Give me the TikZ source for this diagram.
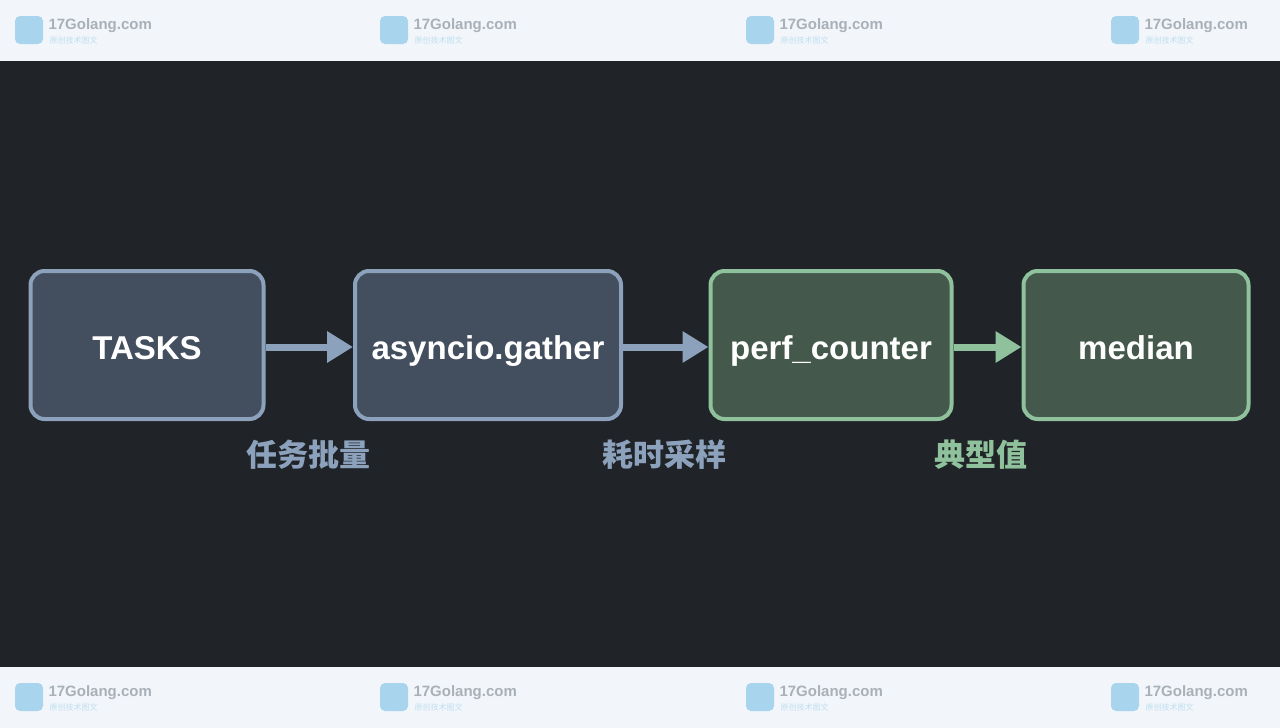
\documentclass[tikz,border=0pt]{standalone}
\usepackage{fontspec}
\setmainfont{Liberation Sans}
\newfontfamily\cjk{Noto Sans CJK SC}
\usetikzlibrary{positioning,arrows.meta}
\definecolor{bgdark}{HTML}{202327}
\definecolor{band}{HTML}{F2F6FA}
\definecolor{bluebd}{HTML}{8CA2BC}
\definecolor{bluefill}{HTML}{434F5E}
\definecolor{greenbd}{HTML}{8FC29C}
\definecolor{greenfill}{HTML}{44584C}
\definecolor{marktxt}{HTML}{A9B0B8}
\definecolor{markicon}{HTML}{A8D4EE}
\tikzset{
  stage/.style={draw=#1bd, fill=#1fill, line width=4pt, rounded corners=14pt,
    minimum height=148pt, text=white, text height=31pt, text depth=3pt,
    font=\bfseries\fontsize{33}{33}\selectfont},
  flow/.style={draw=#1bd, line width=7pt, -{Triangle[length=26pt,width=30pt]}},
  note/.style={text=#1bd, font=\cjk\bfseries\fontsize{31}{31}\selectfont},
  wmark/.style={text=marktxt, font=\bfseries\fontsize{15}{15}\selectfont, anchor=west}
}
\begin{document}
\begin{tikzpicture}[x=1pt,y=-1pt]
\useasboundingbox (0,0) rectangle (1280,728);
% Background
\fill[band] (0,0) rectangle (1280,728);
\fill[bgdark] (0,61) rectangle (1280,667);

% Watermarks
\foreach \mx in {15,380,746,1111}{
  \foreach \my in {30,697}{
    \fill[markicon, rounded corners=5pt] (\mx,\my-14) rectangle (\mx+28,\my+14);
    \node[wmark] at (\mx+30,\my-4) {17Golang.com};
    \node[wmark, text=markicon!70!band, font=\cjk\fontsize{8}{8}\selectfont] at (\mx+31,\my+10) {原创技术图文};
  }
}

% Stages
\node[stage=blue, minimum width=233pt] (tasks) at (147,345) {TASKS};
\node[stage=blue, minimum width=266pt] (gather) at (488,345) {asyncio.gather};
\node[stage=green, minimum width=241pt] (perf) at (831,345) {perf\_counter};
\node[stage=green, minimum width=225pt] (median) at (1136,345) {median};

% Connectors
\draw[flow=blue] (tasks.east) ++(0,2) coordinate (t1) -- (gather.west |- t1);
\draw[flow=blue] (gather.east) ++(0,2) coordinate (g1) -- (perf.west |- g1);
\draw[flow=green] (perf.east) ++(0,2) coordinate (p1) -- (median.west |- p1);

% Labels
\node[note=blue] (lbl1) at (308,455) {任务批量};
\node[note=blue] (lbl2) at (664,455) {耗时采样};
\node[note=green] (lbl3) at (981,455) {典型值};
\end{tikzpicture}
\end{document}
